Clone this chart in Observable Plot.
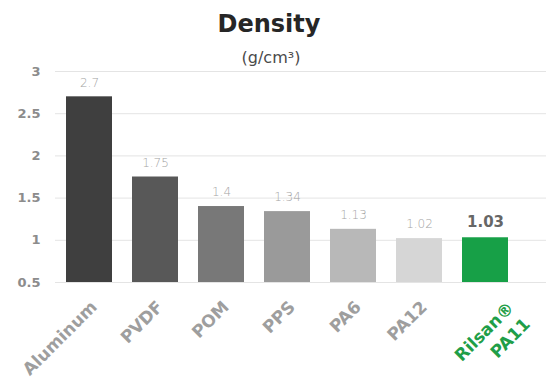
<!DOCTYPE html>
<html>
<head>
<meta charset="utf-8">
<script src="https://cdn.jsdelivr.net/npm/d3@7"></script>
<script src="https://cdn.jsdelivr.net/npm/@observablehq/plot@0.6"></script>
<style>
  html, body { margin: 0; padding: 0; background: #fff; }
  #chart { width: 546px; font-family: "DejaVu Sans", sans-serif; }
  #header { position: relative; height: 62px; }
  #title { position: absolute; left: 0; width: 538px; top: 10px; text-align: center;
           font-size: 24px; line-height: 28px; font-weight: bold; color: #262626; }
  #subtitle { position: absolute; left: 0; width: 542px; top: 49px; text-align: center;
              font-size: 16px; line-height: 18px; color: #4a4a4a; }
</style>
</head>
<body>
<div id="chart">
  <div id="header">
    <div id="title">Density</div>
    <div id="subtitle">(g/cm³)</div>
  </div>
</div>
<script>
const categories = ["Aluminum", "PVDF", "POM", "PPS", "PA6", "PA12", "Rilsan®\nPA11"];
const values = [2.7, 1.75, 1.4, 1.34, 1.13, 1.02, 1.03];
const valueLabels = ["2.7", "1.75", "1.4", "1.34", "1.13", "1.02", "1.03"];
const barColors = ["#3f3f3f", "#585858", "#787878", "#9a9a9a", "#b8b8b8", "#d6d6d6", "#17a047"];
const labelColors = ["#9e9e9e", "#9e9e9e", "#9e9e9e", "#9e9e9e", "#9e9e9e", "#9e9e9e", "#1f9e48"];
const yTicks = [0.5, 1, 1.5, 2, 2.5, 3];

const data = categories.map((name, i) => ({
  name, value: values[i], label: valueLabels[i], color: barColors[i], labelColor: labelColors[i]
}));
const highlight = data.slice(-1);
const others = data.slice(0, -1);

const plot = Plot.plot({
  width: 546,
  height: 319,
  marginTop: 9,
  marginLeft: 55,
  marginRight: 0,
  marginBottom: 99,
  style: { fontFamily: "DejaVu Sans, sans-serif", background: "#fff" },
  x: { domain: categories, range: [54, 520], paddingInner: 0.31, paddingOuter: 0.155, axis: null },
  y: { domain: [0.5, 3] },
  color: { type: "identity" },
  marks: [
    Plot.gridY(yTicks, { stroke: "#e4e4e4", strokeOpacity: 1 }),
    Plot.axisY({ ticks: yTicks, tickSize: 0, tickPadding: 15, label: null,
      tickFormat: d => String(d), fontSize: 13, fontWeight: "bold", fill: "#8c8c8c" }),
    Plot.barY(data, { x: "name", y1: 0.5, y2: "value", fill: "color" }),
    Plot.text(others, { x: "name", y: "value", text: "label", dy: -14,
      fontSize: 12, fontWeight: 300, fill: "#a4a4a4" }),
    Plot.text(highlight, { x: "name", y: "value", text: "label", dy: -16,
      fontSize: 15, fontWeight: "bold", fill: "#666" }),
    Plot.text(others, { x: "name", text: "name", frameAnchor: "bottom", rotate: -45,
      textAnchor: "end", lineAnchor: "top", dx: 0, dy: 17,
      fontSize: 17, fontWeight: "bold", fill: "labelColor" }),
    Plot.text(highlight, { x: "name", text: "name", frameAnchor: "bottom", rotate: -45,
      textAnchor: "end", lineAnchor: "top", dx: 18, dy: 15, lineHeight: 1.35,
      fontSize: 17, fontWeight: "bold", fill: "labelColor" })
  ]
});
document.getElementById("chart").appendChild(plot);
</script>
</body>
</html>
